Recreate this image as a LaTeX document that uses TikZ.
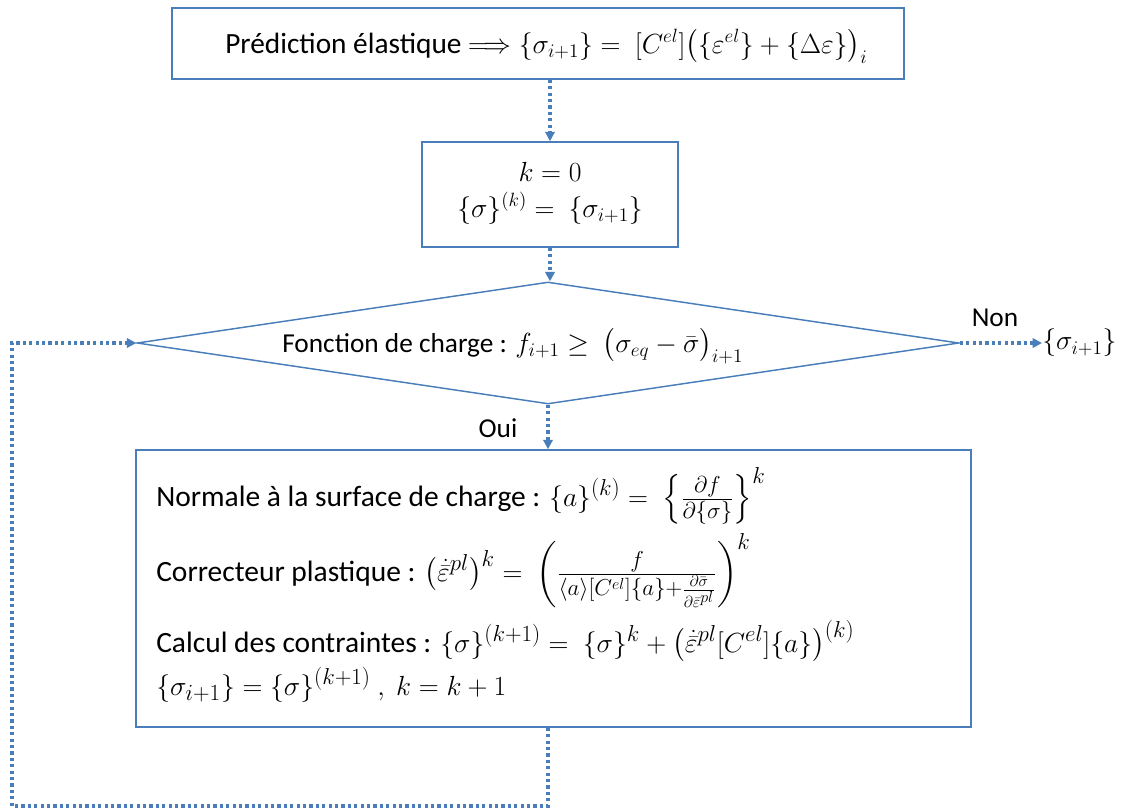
\documentclass[tikz,border=0pt]{standalone}
\usepackage{amsmath}
\usepackage[no-math]{fontspec}
\setmainfont{Carlito}
\DeclareMathSizes{22}{20}{14}{10}
\DeclareMathSizes{20.5}{22}{15.5}{11}
\DeclareMathSizes{21}{21.5}{15}{11}
\DeclareMathSizes{22.1}{22.5}{16}{12}
\usetikzlibrary{shapes.geometric,arrows.meta}
\definecolor{ln}{RGB}{74,126,187}
\begin{document}
\begin{tikzpicture}[x=0.75pt,y=-0.75pt,
  every node/.style={font=\fontsize{20.5}{24}\selectfont, text=black},
  topfont/.style={font=\fontsize{22}{26}\selectfont},
  kfont/.style={font=\fontsize{21}{25}\selectfont},
  bigfont/.style={font=\fontsize{22.1}{26}\selectfont},
  boxnode/.style={draw=ln, line width=1.2pt, rectangle, inner sep=0pt},
  dianode/.style={draw=ln, line width=1.1pt, diamond, inner sep=0pt},
  arr/.style={draw=ln, line width=2.4pt, dash pattern=on 2.4pt off 2.4pt,
     -{Triangle[length=7pt,width=7pt,fill=ln]}},
  txt/.style={inner sep=0pt}]
\useasboundingbox (0,0) rectangle (1123,807);
% boxes
\node[boxnode, minimum width=549pt, minimum height=53.25pt] (top) at (538,43.5) {};
\node[txt, topfont, anchor=base west] (toptxt) at (225,53) {Prédiction élastique $\Longrightarrow \{\sigma_{i+1}\} =\ [C^{el}]\big(\{\varepsilon^{el}\}+\{\Delta\varepsilon\}\big)_i$};
\node[boxnode, minimum width=192pt, minimum height=78.75pt] (kbox) at (550,194.5) {};
\node[txt, kfont, anchor=base] (k1) at (550,181) {$k=0$};
\node[txt, kfont, anchor=base] (k2) at (550,217) {$\{\sigma\}^{(k)} =\ \{\sigma_{i+1}\}$};
\node[dianode, minimum width=616.5pt, minimum height=91.5pt] (dia) at (548,343) {};
\node[txt, anchor=base west] (diatxt) at (282,352) {Fonction de charge : $f_{i+1} \geq\ \big(\sigma_{eq}-\bar{\sigma}\big)_{i+1}$};
\node[boxnode, minimum width=626.25pt, minimum height=207.75pt] (big) at (553.5,588.5) {};
\node[txt, bigfont, anchor=base west] (l1) at (156,506) {Normale à la surface de charge : $\{a\}^{(k)} =\ \left\{\frac{\partial f}{\partial\{\sigma\}}\right\}^{k}$};
\node[txt, bigfont, anchor=base west] (l2) at (156,581) {Correcteur plastique : $\big(\dot{\bar{\varepsilon}}^{pl}\big)^{k} =\ \left(\frac{f}{\langle a\rangle[C^{el}]\{a\}+\frac{\partial\bar{\sigma}}{\partial\bar{\varepsilon}^{pl}}}\right)^{k}$};
\node[txt, bigfont, anchor=base west] (l3) at (156,652) {Calcul des contraintes : $\{\sigma\}^{(k+1)} =\ \{\sigma\}^{k}+\big(\dot{\bar{\varepsilon}}^{pl}[C^{el}]\{a\}\big)^{(k)}$};
\node[txt, bigfont, anchor=base west] (l4) at (156,695) {$\{\sigma_{i+1}\}=\{\sigma\}^{(k+1)}\ ,\ k=k+1$};
% outputs and labels
\node[txt, anchor=west] (out) at (1042,343) {$\{\sigma_{i+1}\}$};
\node[txt] (non) at (995,318) {Non};
\node[txt] (oui) at (498,428) {Oui};
\coordinate (c1) at (548,806);
\coordinate (c2) at (12,806);
% connectors
\draw[arr] (kbox.north |- top.south) -- (kbox.north);
\draw[arr] (kbox.south) -- (kbox.south |- dia.north);
\draw[arr] (dia.south) -- (dia.south |- big.north);
\draw[arr] (dia.east) -- (out.west);
\draw[arr] (dia.south |- big.south) -- (c1) -- (c2) -- (c2 |- dia.west) -- (dia.west);
\end{tikzpicture}
\end{document}
